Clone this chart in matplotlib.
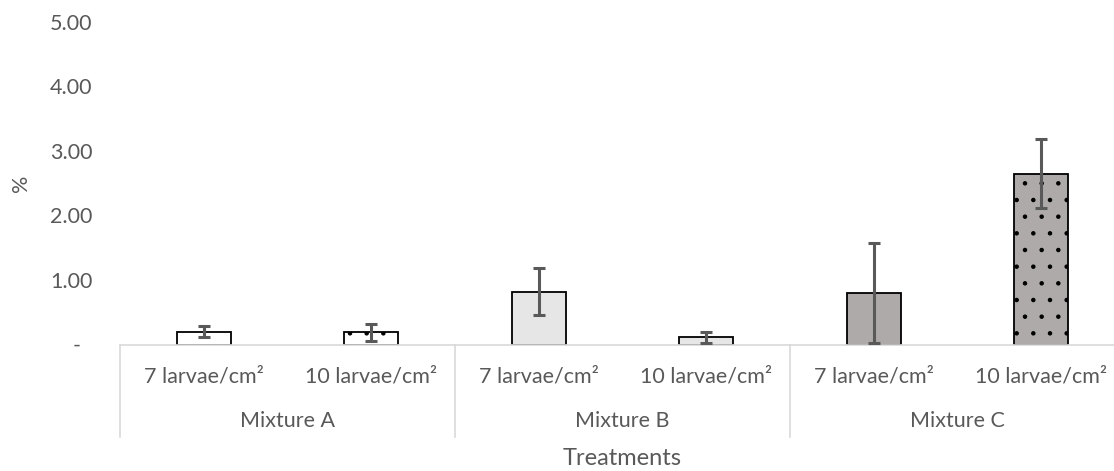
import numpy as np
import matplotlib.pyplot as plt
import matplotlib.transforms as mtransforms

# data
groups = ['Mixture A', 'Mixture B', 'Mixture C']
densities = ['7 larvae/cm²', '10 larvae/cm²']
means = [0.20, 0.19, 0.82, 0.11, 0.80, 2.65]
errors = [0.09, 0.13, 0.37, 0.09, 0.78, 0.54]
fills = ['#ffffff', '#ffffff', '#e6e6e6', '#e6e6e6', '#aeaaaa', '#aeaaaa']
hatches = ['', '.', '', '.', '', '.']
yticks = [0, 1, 2, 3, 4, 5]
ytick_labels = ['-  ', '1.00', '2.00', '3.00', '4.00', '5.00']

plt.rcParams['font.family'] = ['Lato', 'DejaVu Sans']
plt.rcParams['hatch.linewidth'] = 0.8
text_col = '#595959'
axis_col = '#d9d9d9'
fs = 15.5

fig = plt.figure(figsize=(11.14, 4.71), dpi=100)
ax = fig.add_axes([120 / 1114, 1 - 344.5 / 471, 1005 / 1114, 322.5 / 471])

x = np.arange(len(means))
bars = ax.bar(x, means, width=0.32, color=fills, edgecolor='black',
              linewidth=1.3, zorder=2)
for b, h in zip(bars, hatches):
    b.set_hatch(h)
ax.errorbar(x, means, yerr=errors, fmt='none', ecolor=text_col,
            elinewidth=2.2, capsize=4.5, capthick=2.2, zorder=3)

ax.set_xlim(-0.5, len(means) - 0.5)
ax.set_ylim(0, 5)
ax.set_yticks(yticks)
ax.set_yticklabels(ytick_labels)
ax.tick_params(axis='y', length=0, pad=20, labelsize=fs, labelcolor=text_col)
ax.set_xticks([])
for s in ['top', 'right', 'left']:
    ax.spines[s].set_visible(False)
ax.spines['bottom'].set_color(axis_col)
ax.spines['bottom'].set_linewidth(1.2)

ax.set_ylabel('%', color=text_col, fontsize=fs)
ax.yaxis.set_label_coords(-89 / 1005, 0.5)

# multi-level category axis
trans = mtransforms.blended_transform_factory(ax.transData, ax.transAxes)
for i in range(len(means)):
    ax.text(x[i], -0.098, densities[i % 2], transform=trans, ha='center',
            va='center', fontsize=fs, color=text_col)
for g, name in enumerate(groups):
    ax.text(2 * g + 0.5, -0.237, name, transform=trans, ha='center',
            va='center', fontsize=fs, color=text_col)
for sep in np.arange(-0.5, len(means), 2):
    ax.plot([sep, sep], [0, -0.287], transform=trans, color=axis_col,
            linewidth=1.2, clip_on=False)

ax.text(0.5, -0.352, 'Treatments', transform=ax.transAxes, ha='center',
        va='center', fontsize=17, color=text_col)

fig.savefig('out.png', dpi=100)
